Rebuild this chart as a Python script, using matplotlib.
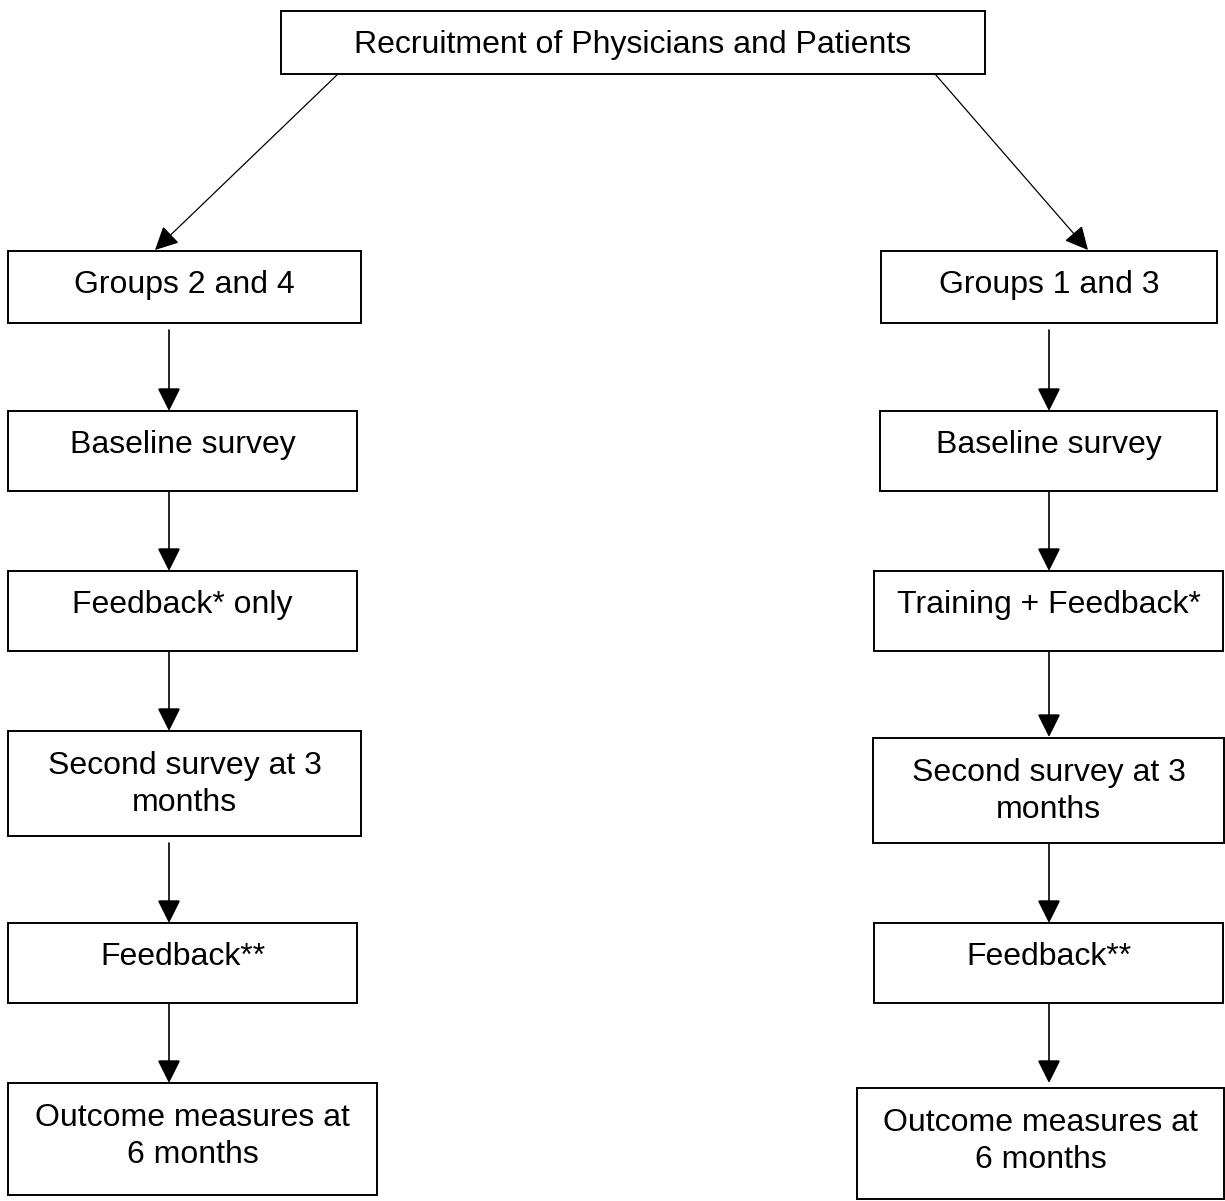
import matplotlib
matplotlib.use("Agg")
import matplotlib.pyplot as plt
from matplotlib.patches import Rectangle, FancyArrowPatch, ArrowStyle

# ---- content ----
top_label = "Recruitment of Physicians and Patients"
left_labels = ["Groups 2 and 4", "Baseline survey", "Feedback* only",
               "Second survey at 3\nmonths", "Feedback**",
               "Outcome measures at\n6 months"]
right_labels = ["Groups 1 and 3", "Baseline survey", "Training + Feedback*",
                "Second survey at 3\nmonths", "Feedback**",
                "Outcome measures at\n6 months"]

# ---- layout (pixel coordinates, y downward) ----
top_box = (281, 11, 985, 74)            # x0, y0, x1, y1
left_x0 = [8, 8, 8, 8, 8, 8]
left_x1 = [361, 357, 357, 361, 357, 377]
left_y0 = [251, 411, 571, 731, 923, 1083]
left_y1 = [323, 491, 651, 836, 1003, 1195]
right_x0 = [881, 880, 874, 873, 874, 857]
right_x1 = [1217, 1217, 1223, 1224, 1223, 1224]
right_y0 = [251, 411, 571, 738, 923, 1088]
right_y1 = [323, 491, 651, 843, 1003, 1199]
left_arrow_x = 169
right_arrow_x = 1049
left_arrow_start = [330, 491, 651, 843, 1003]
right_arrow_start = [330, 491, 651, 843, 1003]
left_arrow_end = [411, 571, 731, 923, 1083]
right_arrow_end = [411, 571, 737, 923, 1083]
diag_left = ((338, 74), (155, 250))
diag_right = ((935, 74), (1088, 250))

FONT = "Liberation Sans"
FS = 23
BOX_LW = 1.4
LINE_STEP = 38      # pixels between text baselines
FIRST_BASE = 42     # first baseline below box top

fig = plt.figure(figsize=(12.25, 12.01), dpi=100)
ax = fig.add_axes([0, 0, 1, 1])
ax.set_xlim(0, 1225)
ax.set_ylim(1201, 0)
ax.axis("off")


def box(x0, y0, x1, y1, label):
    ax.add_patch(Rectangle((x0, y0), x1 - x0, y1 - y0, fill=False,
                           edgecolor="black", linewidth=BOX_LW))
    n = label.count("\n")
    # va='baseline' anchors the last line's baseline
    ax.text((x0 + x1) / 2, y0 + FIRST_BASE + n * LINE_STEP, label,
            ha="center", va="baseline", fontsize=FS, family=FONT,
            color="black", multialignment="center", linespacing=1.32)


def arrow(p0, p1, lw):
    st = ArrowStyle("-|>", head_length=14.4, head_width=7.2)
    ax.add_patch(FancyArrowPatch(p0, p1, arrowstyle=st, mutation_scale=1,
                                 shrinkA=0, shrinkB=0, linewidth=lw,
                                 color="black", joinstyle="miter"))


box(*top_box, top_label)
for i, lab in enumerate(left_labels):
    box(left_x0[i], left_y0[i], left_x1[i], left_y1[i], lab)
for i, lab in enumerate(right_labels):
    box(right_x0[i], right_y0[i], right_x1[i], right_y1[i], lab)

for s, e in zip(left_arrow_start, left_arrow_end):
    arrow((left_arrow_x, s), (left_arrow_x, e), 1.2)
for s, e in zip(right_arrow_start, right_arrow_end):
    arrow((right_arrow_x, s), (right_arrow_x, e), 1.2)

arrow(diag_left[0], diag_left[1], 0.9)
arrow(diag_right[0], diag_right[1], 0.9)

fig.savefig("out.png", dpi=100, facecolor="white")
